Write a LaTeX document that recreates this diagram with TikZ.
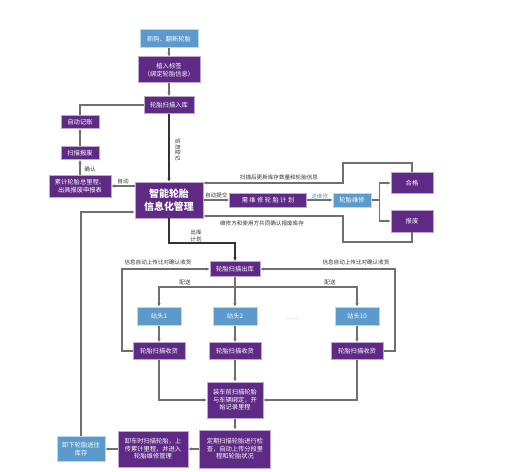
\documentclass[tikz,border=0pt]{standalone}
\usepackage{fontspec}
\setmainfont{Noto Sans CJK SC}
\usetikzlibrary{arrows.meta, positioning, calc}
\definecolor{cpurple}{HTML}{5F2A85}
\definecolor{cblue}{HTML}{5B9ACB}
\definecolor{cgrey}{HTML}{707070}
\definecolor{cdark}{HTML}{333333}
\tikzset{
  every picture/.style={x=1bp, y=-1bp, line width=1.1pt},
  box/.style={fill=#1, draw=#1!40, line width=1pt, text=white, align=center, inner sep=1pt, font=\fontsize{6.3}{7.6}\selectfont},
  box/.default=cpurple,
  arrow/.style={-{Stealth[length=3.5pt, width=3pt]}, draw=cgrey, line width=1.1pt},
  link/.style={draw=cgrey, line width=1.1pt},
  note/.style={font=\fontsize{5.6}{6.6}\selectfont, text=cdark, align=center, inner sep=1pt},
}

\begin{document}
\begin{tikzpicture}
  \tikzset{
    core/.style={box, font=\fontsize{10}{12.5}\selectfont\bfseries},
    thick arrow/.style={arrow, draw=cdark, line width=1.6pt},
    wh/.style 2 args={minimum width=#1bp, minimum height=#2bp},
  }
  \useasboundingbox (0,0) rectangle (511,472);
  % Top: intake
  \node[box=cblue, wh={58}{18}] (new) at (169,39) {新购、翻新轮胎};
  \node[box, wh={62}{26}] (tag) at (169,70) {植入标签\\（绑定轮胎信息）};
  \node[box, wh={50}{17}] (stockin) at (169,105) {轮胎扫描入库};
  \node[core, wh={68}{36}] (core) at (169,200) {智能轮胎\\信息化管理};
  \draw[arrow] (new) -- (tag);
  \draw[arrow] (tag) -- (stockin);
  \draw[thick arrow] (stockin) -- (core);
  \node[note, rotate=-90] (reg) at (178,150) {信息登记};
  % Left: scrap
  \node[box, wh={38}{13}] (acc) at (80,122) {自动记账};
  \node[box, wh={38}{13}] (scrap) at (80,153) {扫描报废};
  \node[box, wh={62}{22}] (total) at (80,186) {累计轮胎总里程、\\出具报废申报表};
  \draw[link] (acc.north) |- (stockin.west);
  \draw[arrow] (scrap) -- (acc);
  \draw[arrow] (total) -- (scrap);
  \node[note] (ack) at (90,169) {确认};
  \draw[arrow] (core.west |- total.east) -- (total.east) node[note, midway, above=1pt] {自动};
  % Right: repair
  \node[box, wh={77}{14}] (plan) at (268,200) {需 维 修 轮 胎 计 划};
  \node[box=cblue, wh={38}{14}] (repair) at (352,200) {轮胎维修};
  \node[box, wh={42}{21}] (ok) at (412,183) {合格};
  \node[box, wh={42}{22}] (bad) at (412,221) {报废};
  \draw[arrow] (core) -- (plan) node[note, midway, above=1pt] {自动提交};
  \draw[arrow] (plan) -- (repair) node[note, midway, above=0pt, text=cblue] {送维修};
  \draw[link] (repair.east) -- ++(8,0) coordinate (fork);
  \draw[arrow] (fork) |- (ok.west);
  \draw[arrow] (fork) |- (bad.west);
  \draw[arrow] (ok.north) |- (343,163) |- ($(core.east)+(0,-17)$);
  \draw[arrow] (bad.south) |- (343,242) |- ($(core.east)+(0,16)$);
  \node[note] (upd) at (279,177) {扫描后更新库存数量和轮胎信息};
  \node[note] (conf) at (262,223) {维修方和使用方共同确认报废库存};
  % Middle: out to stations
  \node[box, wh={50}{15}] (out) at (235,269) {轮胎扫描出库};
  \draw[thick arrow] (core.south) |- (out.north |- 0,243) -- (out.north);
  \node[note] (plan2) at (196,236) {出库\\计划};
  \foreach \n/\x in {1/159, 2/235, 10/357}{
    \node[box=cblue, wh={44}{18}] (st\n) at (\x,316) {站头\n};
    \node[box, wh={52}{17}] (rc\n) at (\x,351) {轮胎扫描收货};
    \draw[arrow] (st\n) -- (rc\n);
  }
  \node[note, text=cgrey] (dots) at (292,319) {……};
  \draw[arrow] (out) -- (st2);
  \draw[arrow] (out.south |- 0,287) -| (st1.north);
  \draw[arrow] (out.south |- 0,287) -| (st10.north);
  \node[note] (ps1) at (185,282) {配送};
  \node[note] (ps2) at (330,282) {配送};
  \draw[arrow] (rc1.west) -| (122,269) -- (out.west);
  \draw[arrow] (rc10.east) -| (395,269) -- (out.east);
  \node[note] (inf1) at (158,262) {信息自动上传比对确认收货};
  \node[note] (inf2) at (356,262) {信息自动上传比对确认收货};
  % Bottom: on the vehicle
  \node[box, wh={56}{36}] (load) at (235,400) {装车前扫描轮胎\\与车辆绑定，开\\始记录里程};
  \node[box, wh={71}{38}] (check) at (235,449) {定期扫描轮胎进行检\\查，自动上传分段里\\程和轮胎状况};
  \node[box, wh={70}{36}] (unload) at (153,449) {卸车时扫描轮胎，上\\传累计里程，并进入\\轮胎维修管理};
  \node[box=cblue, wh={48}{25}] (back) at (81,449) {卸下轮胎送往\\库存};
  \draw[arrow] (rc1.south) |- (load.west);
  \draw[arrow] (rc2) -- (load);
  \draw[arrow] (rc10.south) |- (load.east);
  \draw[arrow] (load) -- (check);
  \draw[arrow] (check) -- (unload);
  \draw[arrow] (unload) -- (back);
  \draw[arrow] (back.north) |- ($(core.west)+(0,12)$);
\end{tikzpicture}
\end{document}
